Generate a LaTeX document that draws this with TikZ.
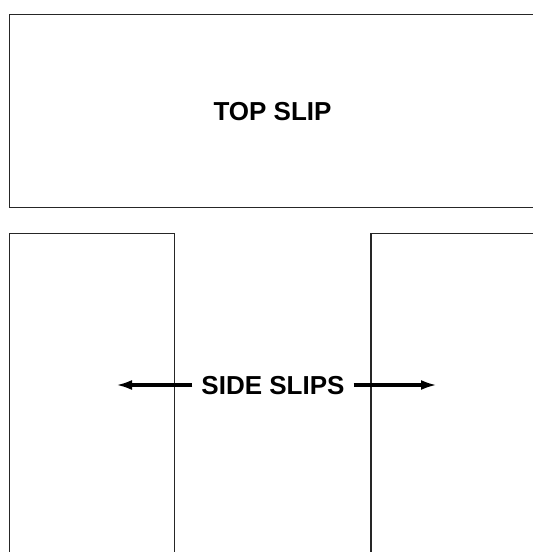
\documentclass[tikz,border=0pt]{standalone}
\usepackage{fontspec}
\setmainfont{Liberation Sans}
\usetikzlibrary{arrows.meta}
\tikzset{
  slip/.style={draw=black!85, line width=1.8pt},
  sliplabel/.style={font=\bfseries\fontsize{26}{30}\selectfont, inner sep=0pt},
  pointer/.style={line width=3.6pt, -{Latex[length=16pt,width=10pt]}}
}
\begin{document}
\begin{tikzpicture}[x=1pt,y=-1pt]
\useasboundingbox (0,0) rectangle (533,552);
\draw[slip] (545,14.5) -- (9.5,14.5) -- (9.5,207.5) -- (545,207.5);
\draw[slip] (9.5,560) -- (9.5,233.5) -- (174.5,233.5) -- (174.5,560);
\draw[slip] (545,233.5) -- (371,233.5) -- (371,560);
\node[sliplabel] (top) at (272.5,112) {TOP SLIP};
\node[sliplabel] (side) at (273,386) {SIDE SLIPS};
\coordinate (ltip) at (116,385);
\coordinate (rtip) at (437,385);
\draw[pointer] ([xshift=-9pt]side.west |- 0,385) -- (ltip);
\draw[pointer] ([xshift=9pt]side.east |- 0,385) -- (rtip);
\end{tikzpicture}
\end{document}
